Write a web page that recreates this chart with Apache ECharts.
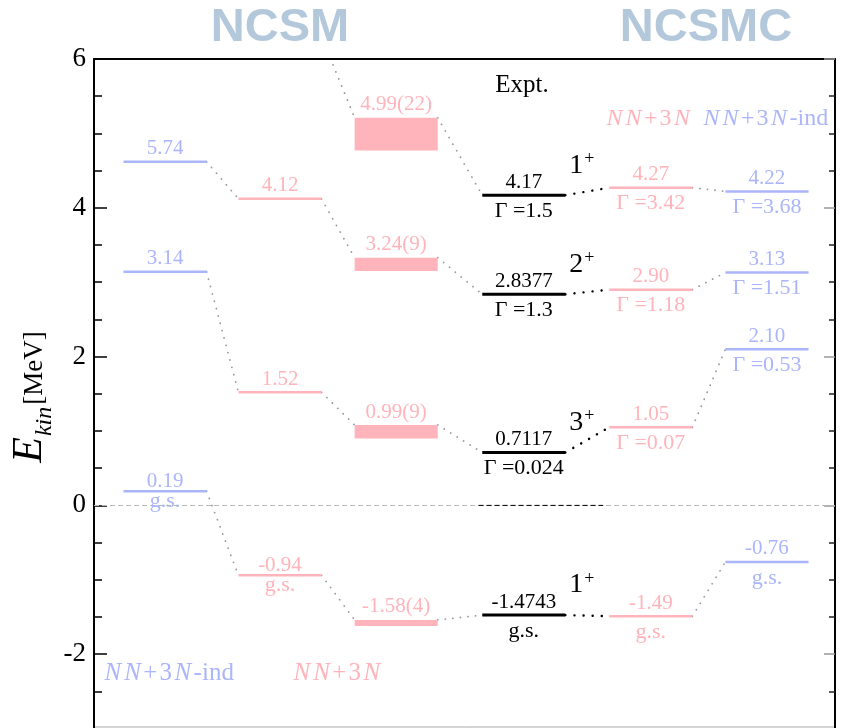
<!DOCTYPE html>
<html>
<head>
<meta charset="utf-8">
<title>NCSM / NCSMC levels</title>
<script src="https://cdn.jsdelivr.net/npm/echarts@6/dist/echarts.min.js"></script>
<style>
  html, body { margin: 0; padding: 0; background: #fff; }
  #chart { width: 842px; height: 728px; }
</style>
</head>
<body>
<div id="chart"></div>
<script>
// 数据 - 每列能级 (MeV)
var columns = ['NCSM NN+3N-ind', 'NCSM NN+3N', 'NCSM NN+3N res', 'Expt.', 'NCSMC NN+3N', 'NCSMC NN+3N-ind'];

var ncsmIndE = [4.62, 3.14, 0.19];
var ncsmIndTop = ['5.74', '3.14', '0.19'];
var ncsmIndBot = ['', '', 'g.s.'];

// first level sits above the frame
var ncsmE = [6.3, 4.12, 1.52, -0.94];
var ncsmTop = ['', '4.12', '1.52', '-0.94'];
var ncsmBot = ['', '', '', 'g.s.'];

var resE = [4.99, 3.24, 0.99, -1.58];
var resErr = [0.22, 0.09, 0.09, 0.04];
var resTop = ['4.99(22)', '3.24(9)', '0.99(9)', '-1.58(4)'];

var exptE = [4.17, 2.8377, 0.7117, -1.4743];
var exptTop = ['4.17', '2.8377', '0.7117', '-1.4743'];
var exptBot = ['Γ =1.5', 'Γ =1.3', 'Γ =0.024', 'g.s.'];
var exptSpin = ['1', '2', '3', '1'];

var ncsmcE = [4.27, 2.90, 1.05, -1.49];
var ncsmcTop = ['4.27', '2.90', '1.05', '-1.49'];
var ncsmcBot = ['Γ =3.42', 'Γ =1.18', 'Γ =0.07', 'g.s.'];

var ncsmcIndE = [4.22, 3.13, 2.10, -0.76];
var ncsmcIndTop = ['4.22', '3.13', '2.10', '-0.76'];
var ncsmcIndBot = ['Γ =3.68', 'Γ =1.51', 'Γ =0.53', 'g.s.'];

// links between columns [fromCol, fromLevel, toCol, toLevel]
var links = [
	[0, 0, 1, 1], [0, 1, 1, 2], [0, 2, 1, 3],
	[1, 0, 2, 0], [1, 1, 2, 1], [1, 2, 2, 2], [1, 3, 2, 3],
	[2, 0, 3, 0], [2, 1, 3, 1], [2, 2, 3, 2], [2, 3, 3, 3],
	[3, 0, 4, 0], [3, 1, 4, 1], [3, 2, 4, 2], [3, 3, 4, 3],
	[4, 0, 5, 0], [4, 1, 5, 1], [4, 2, 5, 2], [4, 3, 5, 3]
];

var yTicks = [-2, 0, 2, 4, 6];

// 布局
var colX = [0, 0.955, 1.92, 2.98, 4.035, 5];
var halfW = 0.345;
var PINK = '#ffb3ba', BLUE = '#aab5fa', GRAY = '#9a9a9a';
var SERIF = '"Liberation Serif", "DejaVu Serif", serif';

var colE = [ncsmIndE, ncsmE, resE, exptE, ncsmcE, ncsmcIndE];
var colTop = [ncsmIndTop, ncsmTop, resTop, exptTop, ncsmcTop, ncsmcIndTop];
var colBot = [ncsmIndBot, ncsmBot, [], exptBot, ncsmcBot, ncsmcIndBot];
var colColor = [BLUE, PINK, PINK, '#000', PINK, BLUE];

// 组装能级数据
var levels = [];
colE.forEach(function (arr, c) {
	arr.forEach(function (e, i) {
		levels.push({
			value: [colX[c], e, c === 2 ? resErr[i] : 0],
			top: colTop[c][i] || '',
			bot: colBot[c][i] || '',
			spin: c === 3 ? exptSpin[i] : '',
			color: colColor[c]
		});
	});
});

function levelTop(c, i) {
	return colE[c][i] + (c === 2 ? resErr[i] : 0);
}

var linkData = links.map(function (l) {
	return {
		value: [colX[l[0]] + halfW, levelTop(l[0], l[1]), colX[l[2]] - halfW, levelTop(l[2], l[3])],
		black: l[0] === 3
	};
});

function renderLevel(params, api) {
	var it = levels[params.dataIndex];
	var x = api.value(0), e = api.value(1), err = api.value(2);
	var a = api.coord([x - halfW, e]);
	var b = api.coord([x + halfW, e]);
	var isExpt = it.color === '#000';
	var children = [];
	var topY = a[1];
	if (err > 0) {
		var t = api.coord([x - halfW, e + err]);
		var d = api.coord([x + halfW, e - err]);
		topY = t[1];
		children.push({ type: 'rect', shape: { x: t[0], y: t[1], width: d[0] - t[0], height: d[1] - t[1] }, style: { fill: it.color } });
	} else {
		children.push({ type: 'line', shape: { x1: a[0], y1: a[1], x2: b[0], y2: b[1] }, style: { stroke: it.color, lineWidth: isExpt ? 3 : 2.5 } });
	}
	var cx = (a[0] + b[0]) / 2;
	var tight = it.bot === 'g.s.' && x < 1.5;
	if (it.top) {
		children.push({ type: 'text', style: { text: it.top, x: cx, y: topY - (tight ? 10 : 13), align: 'center', verticalAlign: 'middle',
			fontFamily: SERIF, fontSize: 21, fill: it.color } });
	}
	if (it.bot) {
		children.push({ type: 'text', style: { text: it.bot, x: cx, y: a[1] + (tight ? 10 : 16), align: 'center', verticalAlign: 'middle',
			fontFamily: SERIF, fontSize: 22, fill: it.color } });
	}
	if (it.spin) {
		children.push({ type: 'text', style: { text: '{n|' + it.spin + '}{p|+}', x: b[0] + 4, y: a[1] - 30, align: 'left', verticalAlign: 'middle',
			rich: { n: { fontFamily: SERIF, fontSize: 28, fill: '#000', lineHeight: 30 },
				p: { fontFamily: SERIF, fontSize: 18, fill: '#000', verticalAlign: 'top', lineHeight: 30, padding: [0, 0, 16, 1] } } } });
	}
	return { type: 'group', children: children };
}

function renderLink(params, api) {
	var it = linkData[params.dataIndex];
	var p = api.coord([api.value(0), api.value(1)]);
	var q = api.coord([api.value(2), api.value(3)]);
	var style;
	if (it.black) style = { stroke: '#000', lineWidth: 2.4, lineDash: [0.1, 9], lineCap: 'round' };
	else style = { stroke: GRAY, lineWidth: 1.8, lineDash: [0.1, 7.5], lineCap: 'round' };
	return { type: 'line', shape: { x1: p[0], y1: p[1], x2: q[0], y2: q[1] }, style: style };
}

// zero line under the experiment column, drawn black
function renderZero(params, api) {
	var p = api.coord([colX[3] - halfW - 0.03, 0]);
	var q = api.coord([colX[4] - halfW - 0.05, 0]);
	return { type: 'line', shape: { x1: p[0], y1: p[1], x2: q[0], y2: q[1] }, style: { stroke: '#000', lineWidth: 1, lineDash: [5, 3] } };
}

// NN+3N 样式文字
function nnText(x, y, size, color, withInd) {
	var txt = '{i|N}{i|N}{u|+}{u|3}{i|N}' + (withInd ? '{d|-ind}' : '');
	return { type: 'text', x: x, y: y, style: { text: txt, align: 'left', verticalAlign: 'middle',
		rich: {
			i: { fontFamily: SERIF, fontStyle: 'italic', fontSize: size, fill: color, padding: [0, 1.5, 0, 1.5] },
			u: { fontFamily: SERIF, fontSize: size, fill: color, padding: [0, 1, 0, 1] },
			d: { fontFamily: SERIF, fontSize: size, fill: color, padding: [0, 0, 0, 1] }
		} } };
}

var myChart = echarts.init(document.getElementById('chart'), null, { renderer: 'canvas' });

var yBase = {
	type: 'value', min: -4, max: 6, interval: 2,
	splitLine: { show: false },
	minorTick: { show: true, splitNumber: 4 }
};

myChart.setOption({
	animation: false,
	grid: { left: 94, top: 59, width: 741, height: 744, outerBoundsMode: 'none', containLabel: false },
	xAxis: [
		{ type: 'value', min: -0.59, max: 5.565, show: false },
		{ type: 'value', min: -0.59, max: 5.565, position: 'top', axisLine: { show: true, onZero: false, lineStyle: { color: '#000', width: 2 } },
			axisTick: { show: false }, axisLabel: { show: false }, splitLine: { show: false } }
	],
	yAxis: [
		Object.assign({}, yBase, {
			position: 'left',
			axisLine: { show: true, onZero: false, lineStyle: { color: '#000', width: 2 } },
			axisTick: { inside: true, length: 13, lineStyle: { color: '#000', width: 1.5 } },
			minorTick: { show: true, splitNumber: 4, length: 8, lineStyle: { color: '#000', width: 1.5 } },
			axisLabel: { margin: 8, fontFamily: SERIF, fontSize: 27, color: '#000',
				formatter: function (v) { return yTicks.indexOf(v) >= 0 ? String(v) : ''; } }
		}),
		Object.assign({}, yBase, {
			position: 'right',
			axisLine: { show: true, onZero: false, lineStyle: { color: '#000', width: 2 } },
			axisTick: { inside: true, length: 11, lineStyle: { color: '#999', width: 1.5 } },
			minorTick: { show: true, splitNumber: 4, length: 6, lineStyle: { color: '#222', width: 1.5 } },
			axisLabel: { show: false }
		})
	],
	graphic: [
		{ type: 'text', x: 280, y: 28, style: { text: 'NCSM', align: 'center', verticalAlign: 'middle', fontFamily: '"Liberation Sans", Arial, sans-serif', fontWeight: 'bold', fontSize: 47, fill: '#b4c8dc' } },
		{ type: 'text', x: 706, y: 28, style: { text: 'NCSMC', align: 'center', verticalAlign: 'middle', fontFamily: '"Liberation Sans", Arial, sans-serif', fontWeight: 'bold', fontSize: 47, fill: '#b4c8dc' } },
		{ type: 'text', x: 522, y: 85, style: { text: 'Expt.', align: 'center', verticalAlign: 'middle', fontFamily: SERIF, fontSize: 25, fill: '#000' } },
		nnText(605, 119, 24, PINK, false),
		nnText(702, 119, 24, BLUE, true),
		nnText(103, 673, 25, BLUE, true),
		nnText(292, 673, 25, PINK, false),
		// y 轴标题
		{ type: 'text', x: 36, y: 397, rotation: Math.PI / 2, style: { text: '{e|E}{k|kin}{m|[MeV]}', align: 'center', verticalAlign: 'middle',
			rich: {
				e: { fontFamily: SERIF, fontStyle: 'italic', fontSize: 42, fill: '#000', lineHeight: 42, verticalAlign: 'bottom', padding: [0, 1, 6, 0] },
				k: { fontFamily: SERIF, fontStyle: 'italic', fontSize: 24, fill: '#000', lineHeight: 24, verticalAlign: 'bottom', padding: [0, 2, 0, 0] },
				m: { fontFamily: SERIF, fontSize: 27, fill: '#000', lineHeight: 27, verticalAlign: 'bottom', padding: [0, 0, 9, 0] }
			} } },
		{ type: 'line', shape: { x1: 94, y1: 727, x2: 835, y2: 727 }, style: { stroke: '#aaa', lineWidth: 1 } }
	],
	series: [
		{
			type: 'custom', name: 'links', clip: true, silent: true,
			renderItem: renderLink,
			data: linkData,
			markLine: {
				silent: true, symbol: ['none', 'none'], label: { show: false },
				lineStyle: { color: '#b8b8b8', type: [5, 3], width: 1 },
				data: [{ yAxis: 0 }]
			}
		},
		{
			type: 'custom', name: 'zero', silent: true, z: 5,
			renderItem: renderZero,
			data: [[0, 0]]
		},
		{
			type: 'custom', name: 'levels', clip: true, silent: true, z: 6,
			renderItem: renderLevel,
			data: levels.map(function (l) { return l.value; })
		}
	]
});
</script>
</body>
</html>
